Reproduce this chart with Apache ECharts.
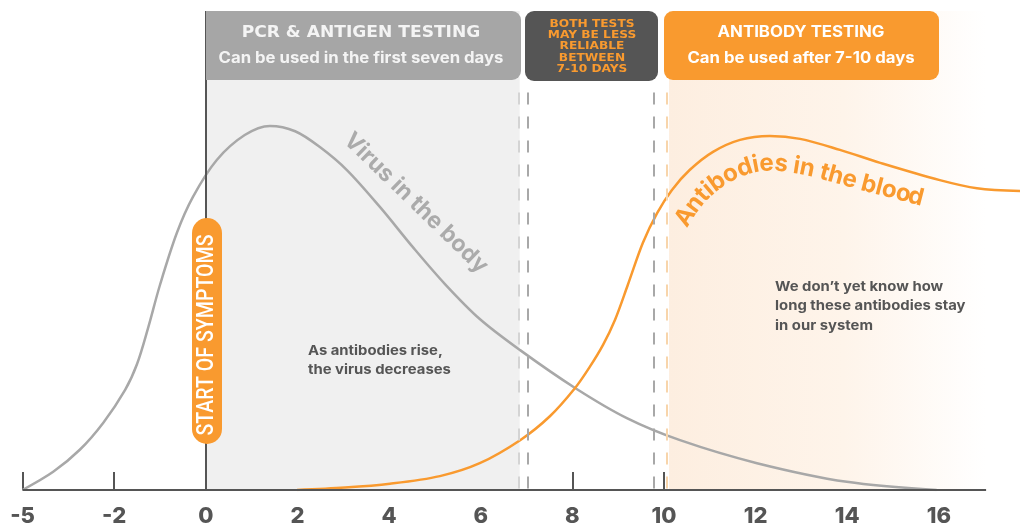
<!DOCTYPE html>
<html>
<head>
<meta charset="utf-8">
<style>html,body{margin:0;padding:0;background:#fff}#chart{width:1020px;height:525px}</style>
<script src="https://cdn.jsdelivr.net/npm/echarts@6/dist/echarts.min.js"></script>
</head>
<body>
<div id="chart"></div>
<script>
// the axis squeezes -5..-2 into one step, so -5 sits at -4 on the scale
var tickValues = [-4, -2, 0, 2, 4, 6, 8, 10, 12, 14, 16];
var tickLabels = ['-5', '-2', '0', '2', '4', '6', '8', '10', '12', '14', '16'];

var virusDays = [-4, -3.33, -2.75, -2.24, -1.76, -1.5, -1.26, -1, -0.63, -0.28, 0.24, 0.85, 1.4, 1.95, 2.49, 3.08, 3.8, 4.52, 5.22, 5.98, 6.86, 8.06, 9.19, 10.35, 12.03, 13.99, 15.95];
var virusLevel = [0, 3.8, 8.4, 14, 20.9, 26.3, 33.8, 42.8, 53.7, 61.2, 68.9, 74.1, 76, 74.9, 71.6, 66.8, 59.1, 50.7, 43, 35.7, 29.2, 21.3, 15, 10.4, 5.6, 1.7, 0];

var antibodyDays = [1.99, 3.04, 4.02, 5.11, 5.98, 6.86, 7.51, 8.06, 8.38, 8.67, 8.93, 9.21, 9.54, 9.85, 10.17, 10.56, 11.07, 11.66, 12.31, 12.97, 13.84, 14.72, 16.02, 16.83, 17.77];
var antibodyLevel = [0, 0.5, 1.3, 2.9, 5.6, 10.4, 15.4, 21.3, 25.7, 30.3, 35.5, 42.8, 51.6, 57.8, 62.6, 66.8, 70.6, 73.1, 73.9, 73.3, 71, 68.3, 64.7, 63, 62.4];

var ORANGE = '#f99a2f', DARK = '#555555', GREY = '#a8a8a8';

var chart = echarts.init(document.getElementById('chart'));

function pairs(xs, ys) {
  return xs.map(function (x, i) { return [x, ys[i]]; });
}

function dashLine(x, color) {
  return [{ xAxis: x, yAxis: 83, lineStyle: { color: color, width: 2, type: [12, 12] } }, { xAxis: x, yAxis: 0 }];
}

// ECharts has no text on a path, so set the letters one by one along a polyline
function textAlongPath(str, pts, font, color) {
  var ctx = document.createElement('canvas').getContext('2d');
  ctx.font = font;
  var total = ctx.measureText(str).width;
  var lens = [0];
  for (var i = 1; i < pts.length; i++) {
    lens.push(lens[i - 1] + Math.hypot(pts[i][0] - pts[i - 1][0], pts[i][1] - pts[i - 1][1]));
  }
  var pathLen = lens[lens.length - 1];
  function at(d) {
    d = Math.max(0, Math.min(pathLen, d));
    var s = 1;
    while (s < pts.length - 1 && lens[s] < d) s++;
    var t = (d - lens[s - 1]) / (lens[s] - lens[s - 1]);
    return [pts[s - 1][0] + (pts[s][0] - pts[s - 1][0]) * t, pts[s - 1][1] + (pts[s][1] - pts[s - 1][1]) * t];
  }
  var out = [];
  str.split('').forEach(function (ch, k) {
    if (ch === ' ') return;
    var w = ctx.measureText(ch).width;
    var mid = (ctx.measureText(str.slice(0, k)).width + w / 2) * pathLen / total;
    // average the position and the angle over a window so kinks do not show
    var a = at(mid - 14), b = at(mid + 14), c = at(mid);
    var ang = Math.atan2(b[1] - a[1], b[0] - a[0]);
    // drop from the bottom of the line box to the baseline
    var drop = 5;
    out.push({
      type: 'text', z: 100, silent: true,
      x: (a[0] + b[0] + 2 * c[0]) / 4 - Math.sin(ang) * drop,
      y: (a[1] + b[1] + 2 * c[1]) / 4 + Math.cos(ang) * drop,
      rotation: -ang,
      style: { text: ch, font: font, fill: color, align: 'center', verticalAlign: 'bottom' }
    });
  });
  return out;
}

function label(text, x, y, font, fill, scaleX) {
  return {
    type: 'text', z: 100, silent: true, x: x, y: y, scaleX: scaleX || 1,
    style: { text: text, font: font, fill: fill, align: 'center', verticalAlign: 'middle' }
  };
}

function note(text, x, y) {
  return {
    type: 'text', z: 100, silent: true, x: x, y: y, scaleX: 1.1,
    style: { text: text, font: 'bold 13.5px Inter', fill: DARK, lineHeight: 19.5, align: 'left', verticalAlign: 'top' }
  };
}

function virusIcon(cx, cy) {
  var kids = [{ type: 'circle', shape: { cx: cx, cy: cy, r: 9.5 }, style: { fill: '#5f5f5f', stroke: '#b0b0b0', lineWidth: 1 } }];
  for (var a = 0; a < 12; a++) {
    var c = Math.cos(a * Math.PI / 6), s = Math.sin(a * Math.PI / 6);
    kids.push({
      type: 'line',
      shape: { x1: cx + 9 * c, y1: cy + 9 * s, x2: cx + 13.5 * c, y2: cy + 13.5 * s },
      style: { stroke: '#9a9a9a', lineWidth: 1.4 }
    });
  }
  return { type: 'group', z: 100, silent: true, children: kids };
}

function antibodyIcon() {
  var lines = [[924, 238, 934, 227], [926, 241, 936, 229], [933, 225, 938, 208], [936, 227, 941, 209], [937, 230, 953, 221], [938, 232, 954, 223]];
  return {
    type: 'group', z: 100, silent: true,
    children: lines.map(function (l) {
      return { type: 'line', shape: { x1: l[0], y1: l[1], x2: l[2], y2: l[3] }, style: { stroke: ORANGE, lineWidth: 1.2 } };
    })
  };
}

var graphics = [
  { type: 'rect', z: 90, silent: true, shape: { x: 206, y: 11, width: 315, height: 69, r: [0, 9, 9, 0] }, style: { fill: '#a6a6a6' } },
  { type: 'rect', z: 90, silent: true, shape: { x: 525, y: 11, width: 133, height: 70, r: 9 }, style: { fill: DARK } },
  { type: 'rect', z: 90, silent: true, shape: { x: 664, y: 11, width: 275, height: 69, r: 9 }, style: { fill: ORANGE } },
  { type: 'rect', z: 95, silent: true, shape: { x: 192, y: 218, width: 30, height: 226, r: 15 }, style: { fill: ORANGE } },
  label('PCR & ANTIGEN TESTING', 361, 33, 'bold 15px "DejaVu Sans"', '#f4f4f4', 1.14),
  label('Can be used in the first seven days', 361, 58, 'bold 15.5px Inter', '#f4f4f4', 1.08),
  label('BOTH TESTS', 592, 24, 'bold 10px "DejaVu Sans"', ORANGE, 1.22),
  label('MAY BE LESS', 592, 35, 'bold 10px "DejaVu Sans"', ORANGE, 1.22),
  label('RELIABLE', 592, 46, 'bold 10px "DejaVu Sans"', ORANGE, 1.22),
  label('BETWEEN', 592, 58, 'bold 10px "DejaVu Sans"', ORANGE, 1.22),
  label('7-10 DAYS', 592, 69, 'bold 10px "DejaVu Sans"', ORANGE, 1.22),
  label('ANTIBODY TESTING', 801, 32, 'bold 15.5px Inter', '#fff', 1.085),
  label('Can be used after 7-10 days', 801, 58, 'bold 15.5px Inter', '#fff', 1.08),
  {
    type: 'text', z: 100, silent: true, x: 207, y: 335, rotation: Math.PI / 2, scaleX: 0.8,
    style: { text: 'START OF SYMPTOMS', font: '500 24.5px Roboto', fill: '#fff', align: 'center', verticalAlign: 'middle' }
  },
  {
    type: 'text', z: 100, silent: true, x: 416, y: 203, rotation: -0.77,
    style: { text: 'Virus in the body', font: 'bold 23px Inter', fill: '#ababab', align: 'center', verticalAlign: 'middle' }
  },
  note('As antibodies rise,\nthe virus decreases', 308, 341),
  note('We don\u2019t yet know how\nlong these antibodies stay\nin our system', 775, 277),
  virusIcon(331, 114),
  antibodyIcon()
].concat(textAlongPath('Antibodies in the blood',
  [[686, 229], [701, 205], [719, 188], [744, 174], [769, 169], [808, 175], [858, 189], [923, 206]],
  'bold 24px Inter', ORANGE));

chart.setOption({
  animation: false,
  backgroundColor: '#fff',
  grid: { left: 22.5, right: 0, top: 11, bottom: 35, outerBoundsMode: 'none' },
  xAxis: {
    type: 'value', min: -4, max: 17.77, splitLine: { show: false },
    axisLine: { show: false },
    axisTick: { inside: true, length: 18, customValues: tickValues, lineStyle: { color: DARK, width: 2 } },
    axisLabel: {
      customValues: tickValues, margin: 15, color: DARK, fontFamily: 'Inter', fontWeight: 800, fontSize: 22,
      formatter: function (v) { return tickLabels[tickValues.indexOf(v)]; }
    }
  },
  yAxis: { type: 'value', min: 0, max: 100, show: false },
  graphic: graphics,
  series: [
    {
      type: 'line', data: [], silent: true,
      markArea: {
        silent: true,
        data: [
          [{ xAxis: 0, yAxis: 0, itemStyle: { color: '#f0f0f0' } }, { xAxis: 6.85, yAxis: 100 }],
          [{
            xAxis: 10.11, yAxis: 0,
            itemStyle: {
              color: { type: 'linear', x: 0, y: 0, x2: 1, y2: 0, colorStops: [
                { offset: 0, color: '#fdeee0' }, { offset: 0.55, color: '#fef4ea' }, { offset: 1, color: '#ffffff' }
              ] }
            }
          }, { xAxis: 17.03, yAxis: 100 }]
        ]
      },
      markLine: {
        silent: true, symbol: 'none', label: { show: false },
        data: [
          dashLine(6.83, '#d4d4d4'), dashLine(7.02, '#a8a8a8'), dashLine(9.78, '#a8a8a8'), dashLine(10.07, '#f8d5ab'),
          [{ xAxis: 0, yAxis: 100, lineStyle: { color: DARK, width: 2, type: 'solid' } }, { xAxis: 0, yAxis: 0 }],
          [{ xAxis: -4, yAxis: 0, lineStyle: { color: DARK, width: 2, type: 'solid' } }, { xAxis: 17.03, yAxis: 0 }]
        ]
      }
    },
    {
      name: 'Virus in the body', type: 'line', smooth: 0.33, showSymbol: false, silent: true,
      lineStyle: { color: GREY, width: 2.5 }, data: pairs(virusDays, virusLevel)
    },
    {
      name: 'Antibodies in the blood', type: 'line', smooth: 0.33, showSymbol: false, silent: true,
      lineStyle: { color: ORANGE, width: 2.5 }, data: pairs(antibodyDays, antibodyLevel)
    }
  ]
});
</script>
</body>
</html>
